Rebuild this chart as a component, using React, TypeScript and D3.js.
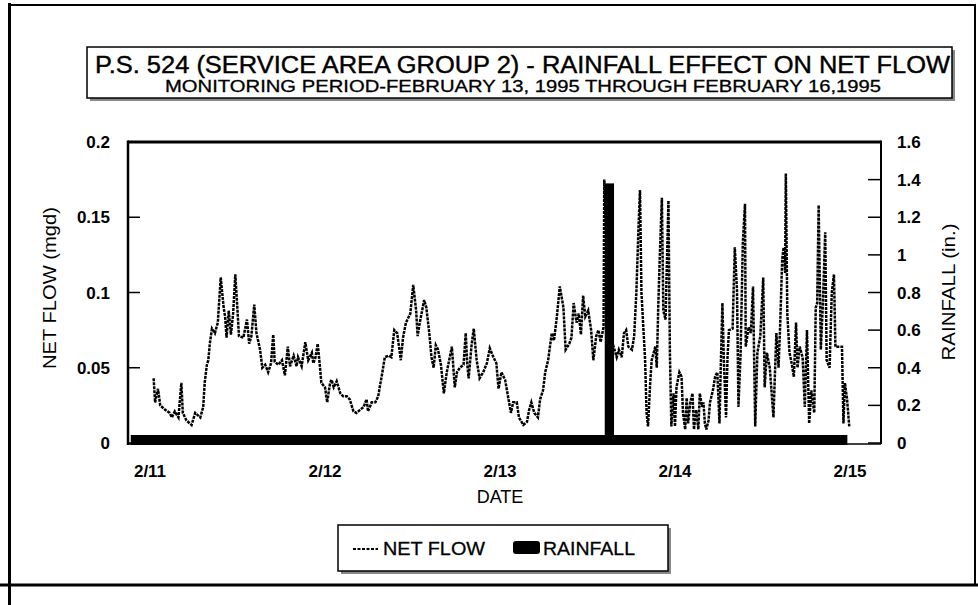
import React from 'react';
import * as d3 from 'd3';

// Net flow samples: [hours since 2/11 00:00, flow in mgd]
const netFlow: [number, number][] = [
  [0.5,.043],[0.7,.027],[1.1,.036],[1.4,.025],[2.1,.022],[2.7,.020],[3.0,.017],[3.4,.021],[3.9,.017],[4.3,.040],[4.5,.020],[5.0,.015],[5.7,.012],[6.2,.020],[6.9,.017],[7.3,.024],[7.5,.040],[7.8,.052],[8.0,.055],[8.2,.066],[8.5,.076],[8.9,.073],[9.3,.080],[9.7,.110],[10.1,.090],[10.3,.084],[10.5,.070],[10.8,.088],[11.1,.072],[11.4,.086],[11.7,.112],[12.0,.088],[12.2,.071],[12.8,.070],[13.3,.082],[13.6,.066],[13.9,.071],[14.3,.092],[14.6,.073],[15.1,.062],[15.4,.050],[15.8,.052],[16.2,.047],[16.6,.053],[16.9,.072],[17.1,.054],[17.6,.052],[18.1,.055],[18.5,.045],[18.9,.064],[19.2,.051],[19.7,.058],[20.1,.051],[20.3,.057],[20.8,.051],[21.3,.067],[21.7,.055],[22.2,.060],[22.4,.053],[22.7,.057],[23.0,.066],[23.3,.051],[23.5,.040],[24.0,.037],
  [24.3,.027],[24.7,.040],[24.9,.042],[25.2,.037],[25.6,.041],[26.1,.033],[26.5,.031],[27.0,.031],[27.4,.029],[27.9,.021],[28.3,.020],[28.8,.022],[29.3,.024],[29.7,.029],[29.9,.021],[30.4,.027],[30.9,.027],[31.3,.031],[31.5,.037],[31.8,.045],[32.2,.057],[32.7,.058],[33.1,.057],[33.5,.075],[33.9,.073],[34.4,.055],[34.7,.070],[35.1,.080],[35.7,.086],[36.1,.105],[36.5,.088],[36.7,.071],[37.0,.080],[37.6,.095],[37.9,.090],[38.3,.073],[38.6,.057],[38.9,.050],[39.2,.065],[39.5,.062],[39.9,.052],[40.3,.033],[40.7,.047],[41.4,.064],[41.8,.037],[42.1,.047],[42.5,.050],[43.0,.052],[43.3,.073],[43.5,.053],[43.7,.043],[44.1,.065],[44.4,.076],[44.8,.055],[45.2,.043],[45.7,.047],[46.2,.053],[46.6,.063],[47.1,.057],[47.5,.053],
  [47.8,.036],[48.2,.047],[48.7,.042],[49.1,.031],[49.5,.020],[49.8,.027],[50.3,.027],[50.6,.017],[51.2,.012],[51.7,.014],[52.0,.022],[52.3,.027],[52.7,.020],[53.2,.017],[53.5,.029],[53.9,.035],[54.2,.047],[54.6,.055],[55.1,.073],[55.4,.068],[55.8,.084],[56.2,.104],[56.7,.090],[57.0,.062],[57.5,.066],[57.8,.070],[58.1,.093],[58.5,.080],[58.8,.086],[59.1,.072],[59.4,.098],[59.7,.084],[60.1,.088],[60.5,.075],[60.8,.055],[61.2,.071],[61.5,.075],[61.8,.067],[62.2,.077],[62.3,.175],[62.7,.120],[63.2,.070],[63.7,.062],[64.0,.057],[64.3,.062],[64.7,.057],[65.0,.073],[65.3,.075],[65.6,.064],[66.1,.062],[66.4,.071],[66.7,.100],[67.0,.144],[67.2,.168],[67.4,.100],[67.9,.055],[68.1,.020],[68.3,.011],[68.6,.040],[68.8,.055],[69.3,.064],[69.5,.050],[69.7,.090],[69.9,.122],[70.2,.163],[70.4,.088],[70.7,.082],[71.1,.161],[71.3,.060],[71.5,.011],
  [71.8,.033],[72.0,.011],[72.2,.037],[72.6,.047],[72.9,.044],[73.1,.020],[73.4,.009],[73.6,.030],[73.8,.013],[74.1,.027],[74.4,.033],[74.6,.009],[74.9,.022],[75.2,.009],[75.4,.033],[75.7,.024],[75.9,.027],[76.1,.013],[76.3,.009],[76.6,.015],[76.8,.027],[77.2,.035],[77.5,.044],[77.8,.047],[78.1,.013],[78.3,.055],[78.5,.093],[78.7,.055],[79.0,.017],[79.2,.057],[79.4,.075],[79.9,.076],[80.2,.130],[80.5,.102],[80.7,.024],[81.0,.060],[81.3,.133],[81.6,.159],[81.7,.064],[82.1,.077],[82.4,.073],[82.7,.104],[83.0,.011],[83.3,.060],[83.7,.071],[84.1,.110],[84.3,.037],[84.6,.060],[85.0,.050],[85.5,.017],[85.9,.073],[86.2,.050],[86.4,.075],[86.7,.122],[86.9,.130],[87.1,.113],[87.2,.179],[87.4,.086],[87.7,.060],[88.0,.053],[88.3,.044],[88.6,.080],[88.8,.050],[89.1,.064],[89.5,.057],[89.8,.024],[90.1,.075],[90.4,.013],[90.7,.035],[91.1,.020],[91.3,.090],[91.5,.093],[91.7,.158],[92.0,.062],[92.3,.095],[92.6,.140],[92.8,.055],[93.2,.050],[93.5,.100],[93.8,.112],[94.0,.064],[94.4,.064],[94.9,.064],[95.1,.013],[95.3,.040],[95.6,.029],[95.9,.011]
];

// Hourly rainfall (in.), first value at hour -2 (2/10 22:00)
const rainStartHour = -2;
const rainfall = [
  0, 0,
  0,0,0,0,0,0,0,0,0,0,0,0,0,0,0,0,0,0,0,0,0,0,0,0,
  0,0,0,0,0,0,0,0,0,0,0,0,0,0,0,0,0,0,0,0,0,0,0,0,
  0,0,0,0,0,0,0,0,0,0,0,0,0,0,0,1.38,0,0,0,0,0,0,0,0,
  0,0,0,0,0,0,0,0,0,0,0,0,0,0,0,0,0,0,0,0,0,0,0,0
];

const dateTicks = [0, 24, 48, 72, 96];
const dateLabels = ['2/11', '2/12', '2/13', '2/14', '2/15'];
const flowTicks = [0, 0.05, 0.1, 0.15, 0.2];
const flowTickLabels = ['0', '0.05', '0.1', '0.15', '0.2'];
const rainTicks = [0, 0.2, 0.4, 0.6, 0.8, 1.0, 1.2, 1.4, 1.6];
const rainTickLabels = ['0', '0.2', '0.4', '0.6', '0.8', '1', '1.2', '1.4', '1.6'];

const TITLE = 'P.S. 524 (SERVICE AREA GROUP 2) - RAINFALL EFFECT ON NET FLOW';
const SUBTITLE = 'MONITORING PERIOD-FEBRUARY 13, 1995 THROUGH FEBRUARY 16,1995';

const FONT = '"Liberation Sans", Arial, sans-serif';

export default function App() {
  const W = 978, H = 605;
  const L = 128, R = 881, T = 142, B = 444;
  const x = d3.scaleLinear().domain([0, 96]).range([150, 850]);
  const yF = d3.scaleLinear().domain([0, 0.2]).range([443, 142]);
  const yR = d3.scaleLinear().domain([0, 1.6]).range([443, 142]);
  const line = d3.line<[number, number]>().x(d => x(d[0])).y(d => yF(d[1]));
  const barW = x(1) - x(0) + 2;

  return (
    <svg width={W} height={H} style={{ position: 'absolute', left: 0, top: 0, background: '#fff' }} fontFamily={FONT}>
      <rect x={0} y={0} width={W} height={H} fill="#fff" />
      {/* outer frame */}
      <line x1={8} y1={5} x2={976} y2={5} stroke="#000" strokeWidth={2} />
      <line x1={9.5} y1={3} x2={9.5} y2={605} stroke="#000" strokeWidth={3} />
      <line x1={975} y1={5} x2={975} y2={586} stroke="#000" strokeWidth={2} />
      <line x1={0} y1={585} x2={978} y2={585} stroke="#000" strokeWidth={3} />

      {/* title box */}
      <rect x={90} y={50} width={865} height={51} fill="#888" />
      <rect x={87} y={47} width={865} height={51} fill="#fff" stroke="#000" strokeWidth={1.5} />
      <text x={522.5} y={72.5} textAnchor="middle" fontSize={23} stroke="#000" strokeWidth={0.4} textLength={855} lengthAdjust="spacingAndGlyphs">{TITLE}</text>
      <text x={523} y={92} textAnchor="middle" fontSize={17} stroke="#000" strokeWidth={0.3} textLength={716} lengthAdjust="spacingAndGlyphs">{SUBTITLE}</text>

      {/* rainfall bars */}
      {rainfall.map((v, i) => {
        const h = rainStartHour + i;
        const top = Math.min(yR(v), yR(0) - 8);
        return <rect key={i} x={x(h) - barW / 2} y={top} width={barW} height={yR(0) + 2 - top} fill="#000" />;
      })}

      {/* net flow */}
      <path d={line(netFlow) || ''} fill="none" stroke="#000" strokeWidth={2.5} strokeDasharray="3,1" />

      {/* plot frame */}
      <line x1={L} y1={T} x2={R} y2={T} stroke="#000" strokeWidth={3} />
      <line x1={L} y1={T - 1.5} x2={L} y2={B + 1} stroke="#000" strokeWidth={2.5} />
      <line x1={R} y1={T - 1.5} x2={R} y2={B} stroke="#000" strokeWidth={2} />
      <line x1={L} y1={B} x2={R} y2={B} stroke="#000" strokeWidth={1.5} />

      {/* left axis */}
      {flowTicks.map((t, i) => (
        <g key={'f' + i}>
          <line x1={L} x2={L + 12} y1={yF(t)} y2={yF(t)} stroke="#000" strokeWidth={1.5} />
          <text x={110} y={yF(t)} dy="0.36em" textAnchor="end" fontWeight="bold" fontSize={17}>{flowTickLabels[i]}</text>
        </g>
      ))}
      {/* right axis */}
      {rainTicks.map((t, i) => (
        <g key={'r' + i}>
          <line x1={R - 13} x2={R} y1={yR(t)} y2={yR(t)} stroke="#000" strokeWidth={1.5} />
          <text x={897} y={yR(t)} dy="0.36em" textAnchor="start" fontWeight="bold" fontSize={17}>{rainTickLabels[i]}</text>
        </g>
      ))}
      {/* x labels */}
      {dateTicks.map((t, i) => (
        <text key={'d' + i} x={x(t)} y={477} textAnchor="middle" fontWeight="bold" fontSize={17}>{dateLabels[i]}</text>
      ))}
      <text x={500} y={503} textAnchor="middle" fontSize={18}>DATE</text>

      <text transform="translate(56,288) rotate(-90)" textAnchor="middle" fontSize={18} textLength={162} lengthAdjust="spacingAndGlyphs">NET FLOW (mgd)</text>
      <text transform="translate(955,292) rotate(-90)" textAnchor="middle" fontSize={18} textLength={137} lengthAdjust="spacingAndGlyphs">RAINFALL (in.)</text>

      {/* legend */}
      <rect x={341} y={528} width={330} height={46} fill="#888" />
      <rect x={338} y={525} width={330} height={46} fill="#fff" stroke="#000" strokeWidth={1.5} />
      <line x1={353} x2={378} y1={549} y2={549} stroke="#000" strokeWidth={1.8} strokeDasharray="3,1.5" />
      <text x={383} y={555} fontSize={19} stroke="#000" strokeWidth={0.3} textLength={102} lengthAdjust="spacingAndGlyphs">NET FLOW</text>
      <rect x={513} y={541} width={27} height={13} rx={3} fill="#000" />
      <text x={543} y={555} fontSize={19} stroke="#000" strokeWidth={0.3} textLength={92} lengthAdjust="spacingAndGlyphs">RAINFALL</text>
    </svg>
  );
}
